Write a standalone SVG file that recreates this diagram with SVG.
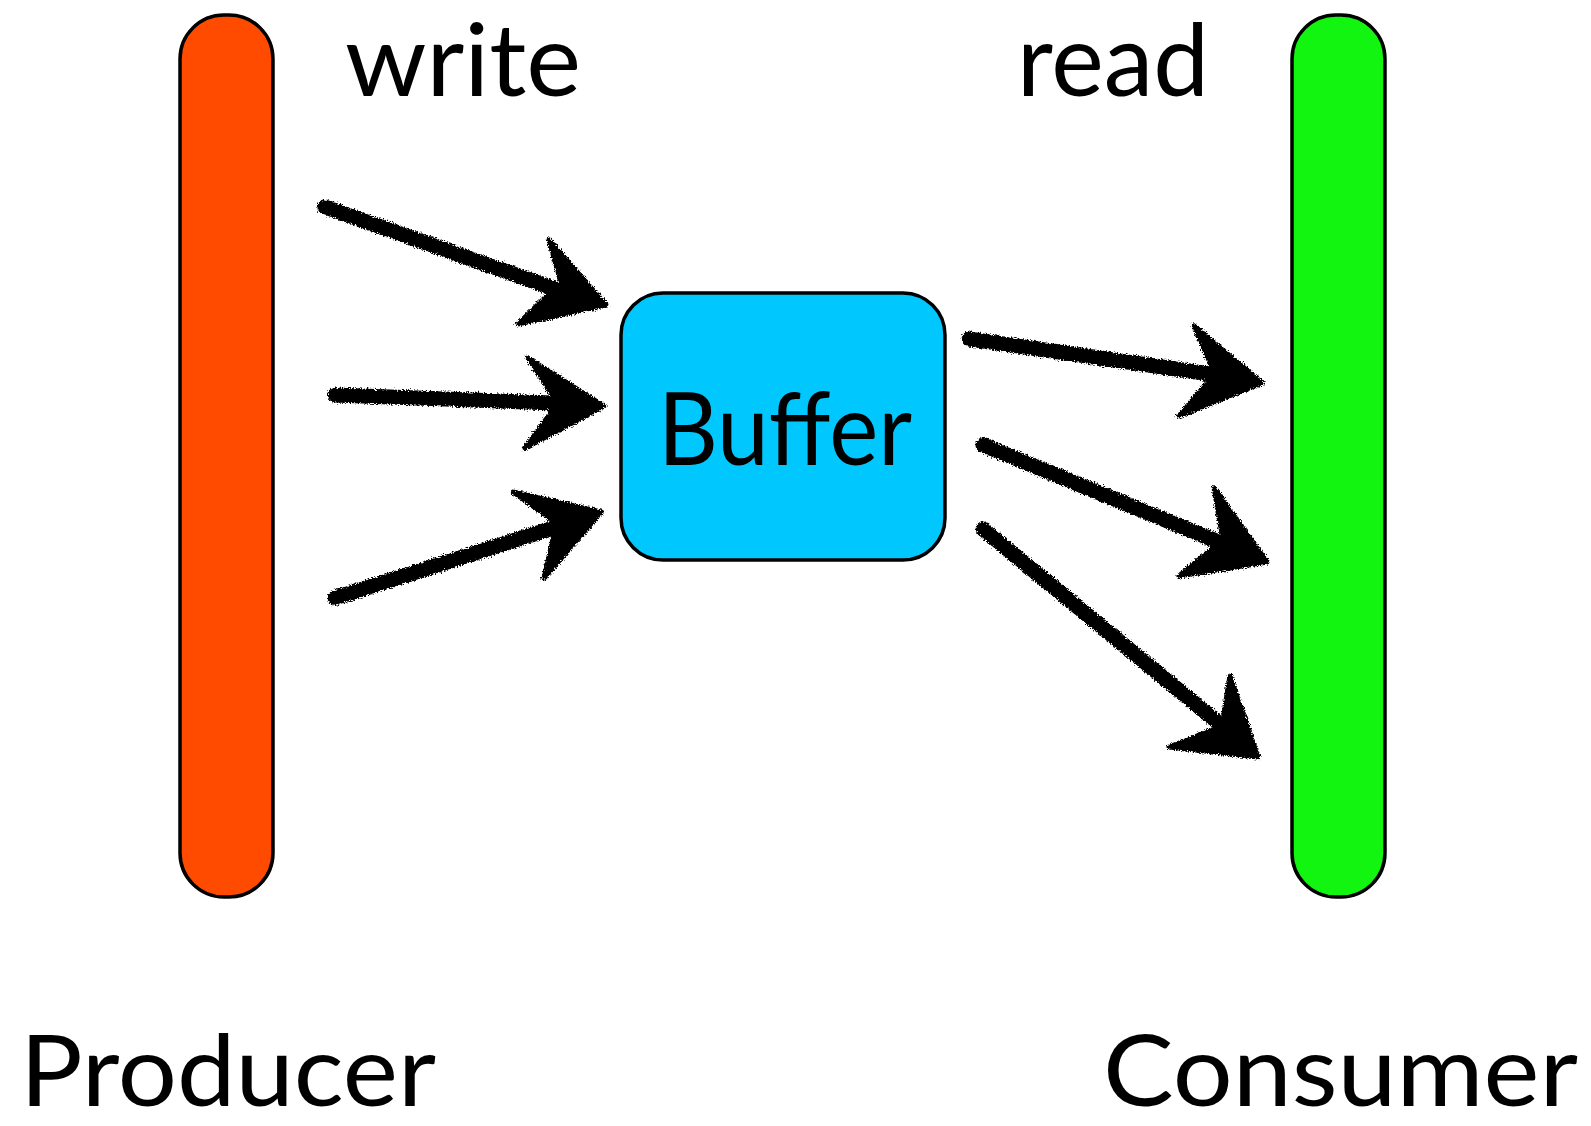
<svg xmlns="http://www.w3.org/2000/svg" width="1591" height="1126" viewBox="0 0 1591 1126">
<style>
.lbl{font-family:Lato,"Open Sans","Liberation Sans",sans-serif;font-size:100px;fill:#000}
.bot{font-size:98px}
.bar{stroke:#000;stroke-width:3.5}
.shaft{stroke:#000;stroke-width:15;stroke-linecap:round;fill:none}
.head{fill:#000;stroke:#000;stroke-width:5;stroke-linejoin:round}
</style>
<defs>
<filter id="rough" x="-10%" y="-10%" width="120%" height="120%">
<feTurbulence type="fractalNoise" baseFrequency="0.7" numOctaves="2" seed="3" result="n"/>
<feDisplacementMap in="SourceGraphic" in2="n" scale="6" xChannelSelector="R" yChannelSelector="G"/>
</filter>
</defs>
<rect width="1591" height="1126" fill="#fff"/>
<g id="producer">
<rect class="bar" x="180" y="15" width="93" height="882" rx="44" fill="#FF4B00"/>
<text class="lbl bot" x="20" y="1106" textLength="416" lengthAdjust="spacingAndGlyphs">Producer</text>
</g>
<g id="consumer">
<rect class="bar" x="1292" y="15" width="93" height="882" rx="44" fill="#11F511"/>
<text class="lbl bot" x="1103" y="1106" textLength="475" lengthAdjust="spacingAndGlyphs">Consumer</text>
</g>
<g id="buffer">
<rect class="bar" x="621" y="293" width="324" height="267" rx="42" fill="#00C8FF" stroke-width="4"/>
<text class="lbl" x="658" y="465" textLength="254" lengthAdjust="spacingAndGlyphs">Buffer</text>
</g>
<g id="write-label"><text class="lbl" x="345" y="96" textLength="236" lengthAdjust="spacingAndGlyphs">write</text></g>
<g id="read-label"><text class="lbl" x="1017" y="96" textLength="192" lengthAdjust="spacingAndGlyphs">read</text></g>
<g id="connectors" filter="url(#rough)">
<line class="shaft" x1="325" y1="207" x2="575" y2="296"/>
<polygon class="head" points="606,305 549,240 561,282 518,324"/>
<line class="shaft" x1="335" y1="395" x2="580" y2="404"/>
<polygon class="head" points="604,406 528,358 558,403 525,448"/>
<line class="shaft" x1="335" y1="598" x2="578" y2="520"/>
<polygon class="head" points="601,512 513,492 557,523 544,578"/>
<line class="shaft" x1="969" y1="339" x2="1238" y2="378"/>
<polygon class="head" points="1262,383 1194,326 1215,374 1179,416"/>
<line class="shaft" x1="983" y1="445" x2="1243" y2="552"/>
<polygon class="head" points="1267,562 1214,488 1223,540 1179,576"/>
<line class="shaft" x1="983" y1="529" x2="1238" y2="739"/>
<polygon class="head" points="1258,757 1230,676 1222,726 1169,747"/>
</g>
</svg>
